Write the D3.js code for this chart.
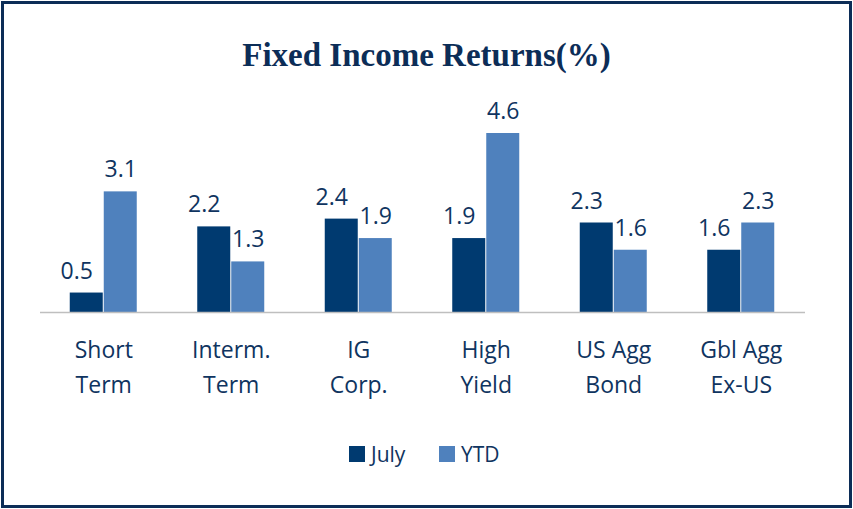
<!DOCTYPE html>
<html><head><meta charset="utf-8">
<script src="https://cdn.jsdelivr.net/npm/d3@7"></script>
<style>body{margin:0;background:#fff}</style>
</head><body><div id="chart"></div>
<script>
const categories = [["Short", "Term"], ["Interm.", "Term"], ["IG", "Corp."], ["High", "Yield"], ["US Agg", "Bond"], ["Gbl Agg", "Ex-US"]];
const julyValues = [0.5, 2.2, 2.4, 1.9, 2.3, 1.6];
const ytdValues = [3.1, 1.3, 1.9, 4.6, 1.6, 2.3];
const seriesNames = ["July", "YTD"];
const colors = ["#003a70", "#4f81bd"];
const textColor = "#0f3460";

const width = 853, height = 509;
const margin = { left: 40, right: 48, baseline: 312 };
const svg = d3.select("#chart").append("svg").attr("width", width).attr("height", height);

svg.append("rect").attr("x", 2.5).attr("y", 2.5).attr("width", width - 5).attr("height", height - 5)
    .attr("fill", "#fff").attr("stroke", "#0c2d57").attr("stroke-width", 3);

svg.append("text").attr("x", width / 2).attr("y", 66).attr("text-anchor", "middle")
    .attr("font-family", "Liberation Serif, serif").attr("font-weight", "bold").attr("font-size", 33)
    .attr("fill", "#0c2d57").text("Fixed Income Returns(%)");

const x = d3.scaleBand().domain(d3.range(categories.length)).range([margin.left, width - margin.right]);
const y = d3.scaleLinear().domain([0, 4.6]).range([margin.baseline, 133]);
const barW = 34;

const groups = svg.selectAll("g.cat").data(categories.map((c, i) => ({ c, i, vals: [julyValues[i], ytdValues[i]] })))
    .join("g").attr("class", "cat");

groups.each(function (d) {
    const g = d3.select(this);
    const cx = x(d.i) + x.bandwidth() / 2;
    d.vals.forEach((v, s) => {
        const bx = cx - barW + s * barW;
        g.append("rect").attr("x", bx).attr("y", y(v)).attr("width", barW - 1).attr("height", y(0) - y(v)).attr("fill", colors[s]);
        g.append("text").attr("x", bx + barW / 2 - (s ? 0 : 10)).attr("y", y(v) - 14).attr("text-anchor", "middle")
            .attr("font-family", "Open Sans, sans-serif").attr("font-size", 23).attr("fill", textColor).text(v.toFixed(1));
    });
    d.c.forEach((line, k) => {
        g.append("text").attr("x", cx).attr("y", 358 + k * 35).attr("text-anchor", "middle")
            .attr("font-family", "Open Sans, sans-serif").attr("font-size", 23).attr("fill", textColor).text(line);
    });
});

svg.append("line").attr("x1", margin.left).attr("x2", width - margin.right).attr("y1", y(0) + 0.5).attr("y2", y(0) + 0.5)
    .attr("stroke", "#bfbfbf").attr("stroke-width", 1.5);

const legend = svg.append("g");
seriesNames.forEach((n, i) => {
    const lx = 349 + i * 90;
    legend.append("rect").attr("x", lx).attr("y", 446).attr("width", 16).attr("height", 16).attr("fill", colors[i]);
    legend.append("text").attr("x", lx + 22).attr("y", 462).attr("font-family", "Open Sans, sans-serif")
        .attr("font-size", 21).attr("fill", textColor).text(n);
});
</script></body></html>
